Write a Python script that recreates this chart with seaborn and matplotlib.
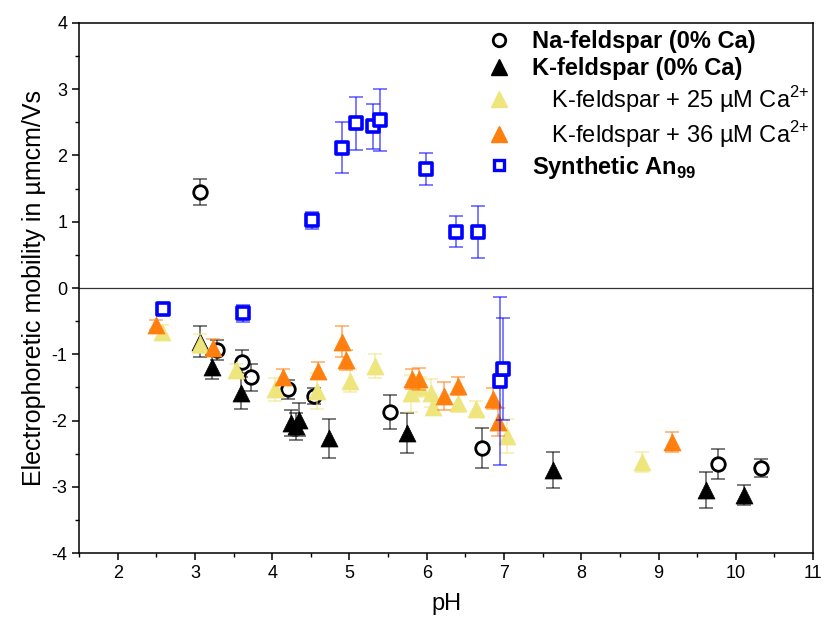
import numpy as np
import pandas as pd
import matplotlib
matplotlib.use("Agg")
import matplotlib.pyplot as plt
import seaborn as sns
from matplotlib.lines import Line2D
from matplotlib.ticker import MultipleLocator

sns.set_theme(style="ticks")
plt.rcParams['font.family'] = ['Liberation Sans', 'DejaVu Sans']
plt.rcParams['mathtext.fontset'] = 'custom'
plt.rcParams['mathtext.rm'] = 'Liberation Sans'
plt.rcParams['mathtext.bf'] = 'Liberation Sans:bold'
plt.rcParams['axes.unicode_minus'] = False
plt.rcParams['text.color'] = 'black'
plt.rcParams['axes.labelcolor'] = 'black'
plt.rcParams['xtick.color'] = 'black'
plt.rcParams['ytick.color'] = 'black'

# Na-feldspar (0% Ca)
na_ph  = [3.07, 3.29, 3.61, 3.72, 4.20, 4.54, 5.52, 6.72, 9.77, 10.33]
na_mob = [1.45, -0.94, -1.11, -1.35, -1.53, -1.63, -1.87, -2.42, -2.66, -2.72]
na_err = [0.19, 0.15, 0.17, 0.20, 0.14, 0.12, 0.26, 0.30, 0.23, 0.14]

# K-feldspar (0% Ca)
k_ph  = [3.07, 3.22, 3.59, 4.24, 4.31, 4.35, 4.74, 5.74, 7.63, 9.62, 10.11]
k_mob = [-0.81, -1.19, -1.59, -2.04, -2.09, -1.99, -2.27, -2.19, -2.75, -3.05, -3.12]
k_err = [0.23, 0.18, 0.24, 0.20, 0.20, 0.25, 0.30, 0.30, 0.27, 0.27, 0.15]

# K-feldspar + 25 uM Ca2+
k25_ph  = [2.57, 3.07, 3.53, 4.03, 4.58, 5.01, 5.33, 5.80, 5.91, 6.06, 6.08, 6.40, 6.64, 7.04, 8.79]
k25_mob = [-0.66, -0.84, -1.24, -1.53, -1.56, -1.40, -1.18, -1.59, -1.49, -1.58, -1.79, -1.73, -1.82, -2.23, -2.62]
k25_err = [0.10, 0.14, 0.10, 0.17, 0.27, 0.17, 0.18, 0.28, 0.15, 0.21, 0.12, 0.14, 0.12, 0.26, 0.15]

# K-feldspar + 36 uM Ca2+
k36_ph  = [2.49, 3.24, 4.14, 4.59, 4.91, 4.96, 5.81, 5.90, 6.23, 6.40, 6.86, 6.92, 9.18]
k36_mob = [-0.56, -0.90, -1.35, -1.25, -0.81, -1.09, -1.38, -1.37, -1.63, -1.48, -1.67, -2.02, -2.32]
k36_err = [0.08, 0.13, 0.12, 0.13, 0.23, 0.15, 0.15, 0.17, 0.21, 0.13, 0.16, 0.21, 0.15]

# Synthetic An99
an_ph  = [2.59, 3.62, 4.51, 4.91, 5.08, 5.31, 5.40, 5.99, 6.38, 6.67, 6.95, 6.99]
an_mob = [-0.32, -0.38, 1.02, 2.12, 2.49, 2.44, 2.54, 1.80, 0.85, 0.85, -1.40, -1.22]
an_err = [0.05, 0.13, 0.13, 0.38, 0.40, 0.34, 0.47, 0.24, 0.23, 0.39, 1.27, 0.77]

fig, ax = plt.subplots(figsize=(8.24, 6.30), dpi=100)
fig.subplots_adjust(left=0.0959, right=0.9867, top=0.9635, bottom=0.1222)

ax.axhline(0, color='#333333', lw=0.9, zorder=1)

series = [
    dict(x=na_ph, y=na_mob, e=na_err, marker='o', face='white', edge='black',
         ecol='black', s=95, lw=2.0, z=3),
    dict(x=k_ph, y=k_mob, e=k_err, marker='^', face='black', edge='black',
         ecol='black', s=150, lw=0.5, z=4),
    dict(x=k25_ph, y=k25_mob, e=k25_err, marker='^', face='#EEE57C', edge='#EEE57C',
         ecol='#EEE57C', s=150, lw=0.5, z=5),
    dict(x=k36_ph, y=k36_mob, e=k36_err, marker='^', face='#FF7F0E', edge='#FF7F0E',
         ecol='#FF7F0E', s=150, lw=0.5, z=6),
    dict(x=an_ph, y=an_mob, e=an_err, marker='s', face='white', edge='#0000FF',
         ecol='#0000FF', s=70, lw=2.6, z=7),
]

for s in series:
    ax.errorbar(s['x'], s['y'], yerr=s['e'], fmt='none', ecolor=s['ecol'],
                elinewidth=1.1, capsize=5, capthick=1.1, alpha=0.65, zorder=s['z'])
    df = pd.DataFrame({'pH': s['x'], 'mob': s['y']})
    sns.scatterplot(data=df, x='pH', y='mob', ax=ax, marker=s['marker'], s=s['s'],
                    color=s['face'], edgecolor=s['edge'], linewidth=s['lw'],
                    zorder=s['z'] + 0.5, legend=False)

ax.set_xlim(1.5, 11)
ax.set_ylim(-4, 4)
ax.xaxis.set_minor_locator(MultipleLocator(0.5))
ax.yaxis.set_major_locator(MultipleLocator(1))
ax.yaxis.set_minor_locator(MultipleLocator(0.5))
ax.set_xticks(range(2, 12))
ax.tick_params(axis='both', which='major', direction='out', length=5, width=1.1,
               labelsize=13, color='black', labelcolor='black')
ax.tick_params(axis='both', which='minor', direction='out', length=3, width=1.0, color='black')
for sp in ax.spines.values():
    sp.set_visible(True)
    sp.set_color('black')
    sp.set_linewidth(1.1)

ax.set_xlabel('pH', fontsize=17, labelpad=8)
ax.set_ylabel('Electrophoretic mobility in µmcm/Vs', fontsize=18, labelpad=4)

handles = [
    Line2D([], [], ls='none', marker='o', ms=9, mfc='white', mec='black', mew=2.0),
    Line2D([], [], ls='none', marker='^', ms=12, mfc='black', mec='black'),
    Line2D([], [], ls='none', marker='^', ms=12, mfc='#EEE57C', mec='#EEE57C'),
    Line2D([], [], ls='none', marker='^', ms=12, mfc='#FF7F0E', mec='#FF7F0E'),
    Line2D([], [], ls='none', marker='s', ms=7, mfc='white', mec='#0000FF', mew=2.4),
]
labels = ['Na-feldspar (0% Ca)', 'K-feldspar (0% Ca)',
          '   K-feldspar + 25 µM Ca$^{2{+}}$', '   K-feldspar + 36 µM Ca$^{2{+}}$',
          r'Synthetic An$_{\mathbf{99}}$']
leg = ax.legend(handles, labels, loc='upper right', bbox_to_anchor=(1.008, 1.005),
                frameon=False, fontsize=17, handletextpad=0.8, labelspacing=0.17,
                borderaxespad=0.0, handlelength=1.2)
for i in (0, 1, 4):
    leg.get_texts()[i].set_fontweight('bold')

fig.savefig('out.png', dpi=100)
